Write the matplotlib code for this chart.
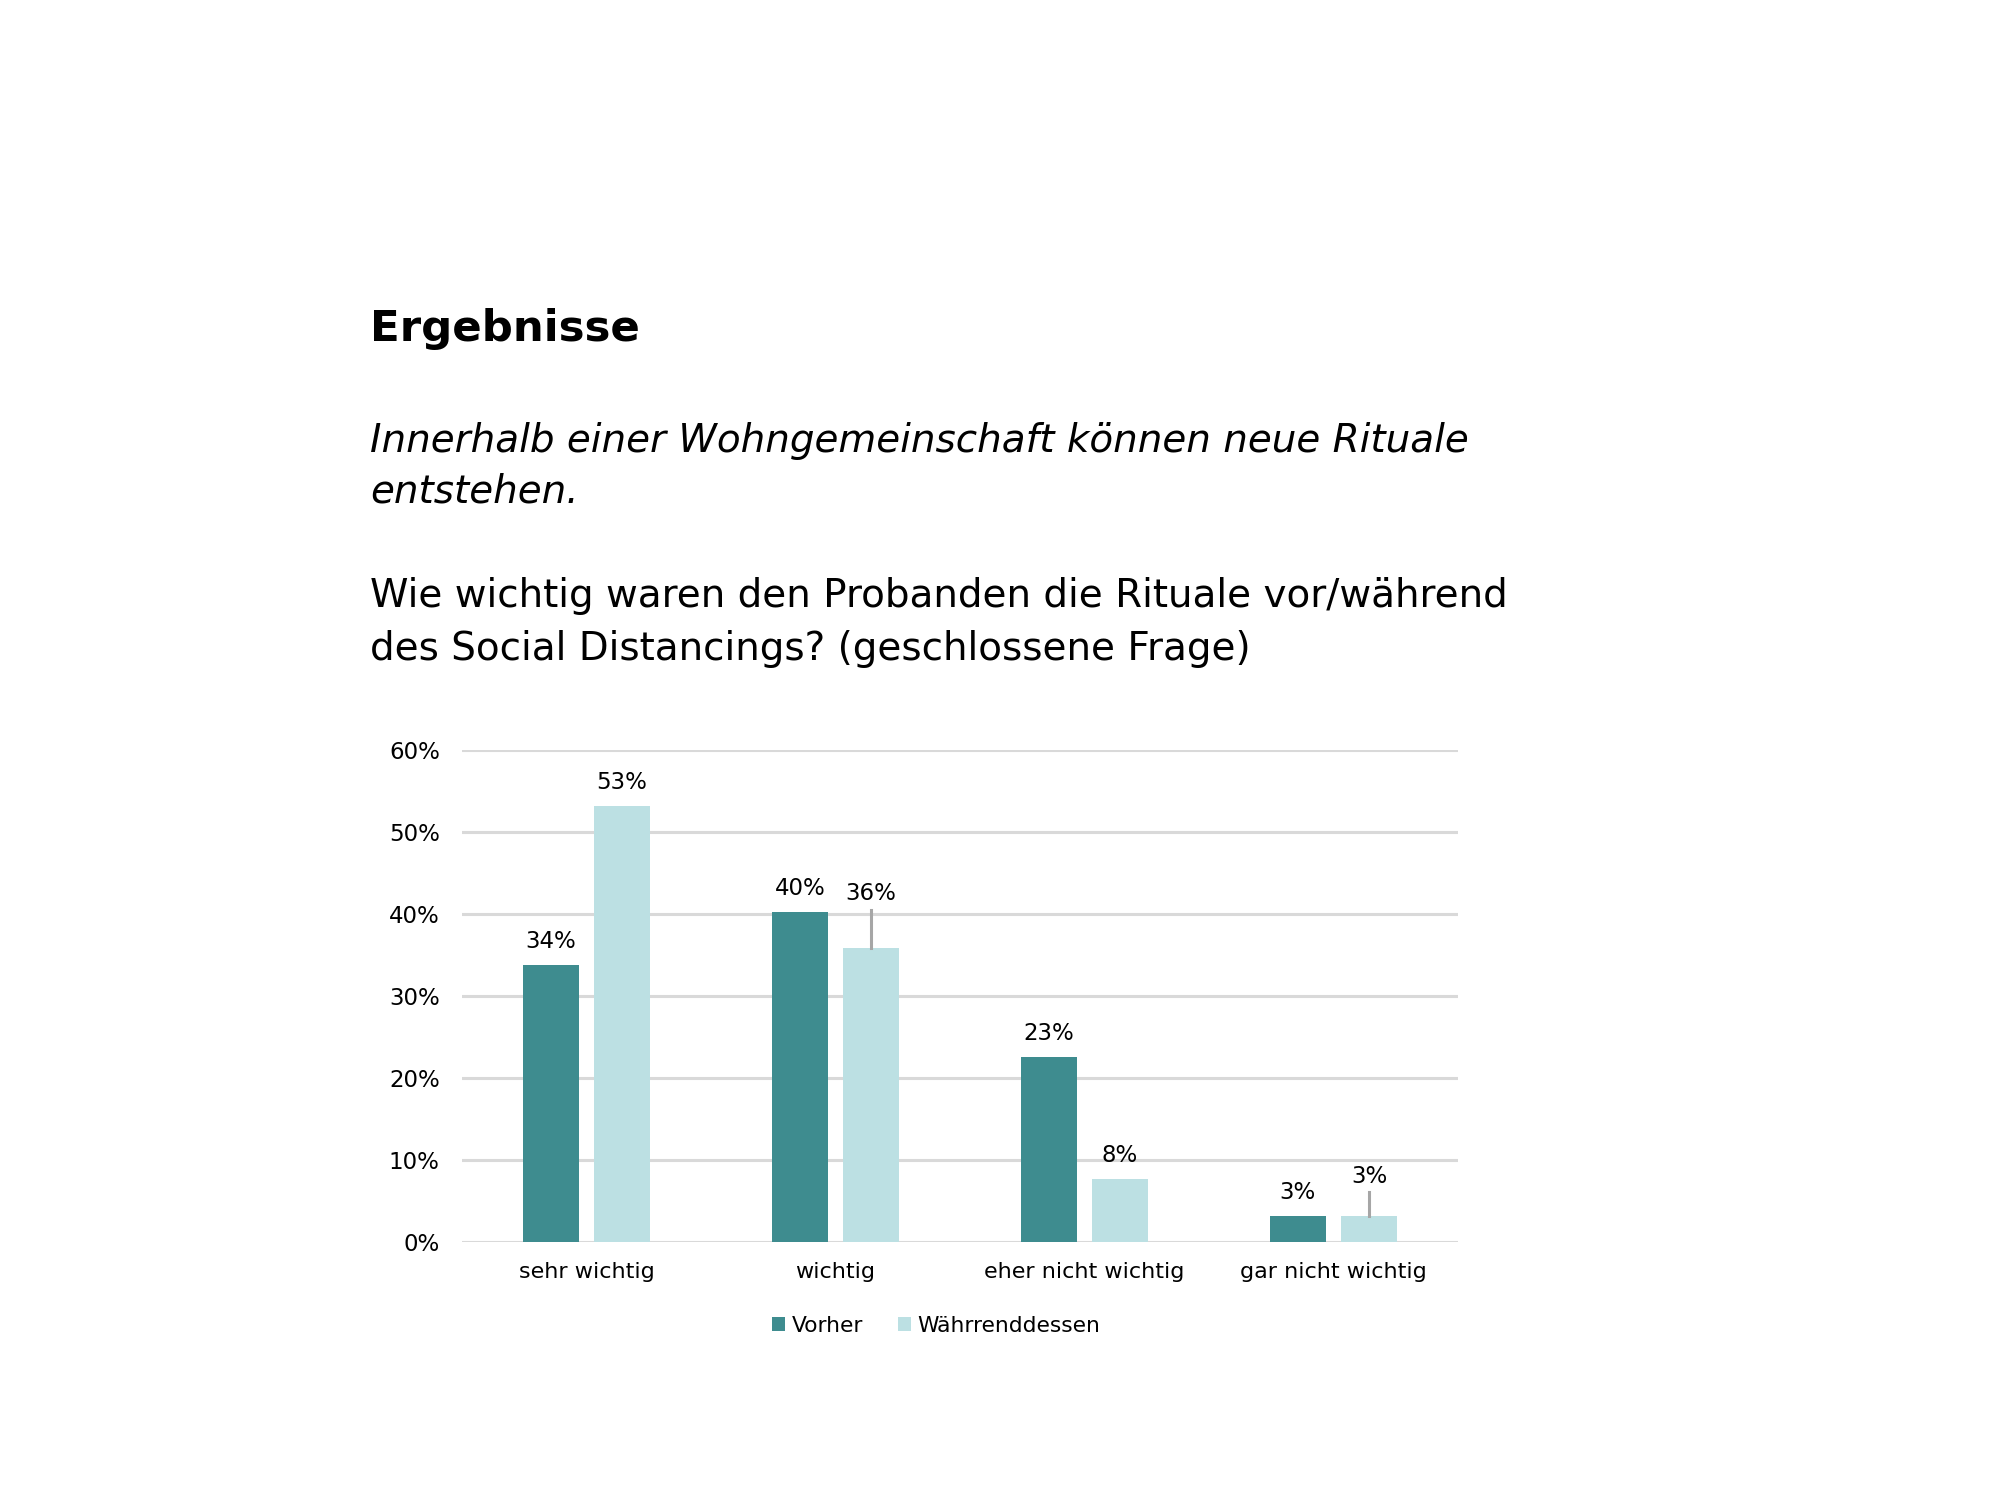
import numpy as np
import matplotlib
matplotlib.use("Agg")
import matplotlib.pyplot as plt
from matplotlib.patches import Patch

# -----------------------------
# Data
# -----------------------------
categories = ["sehr wichtig", "wichtig", "eher nicht wichtig", "gar nicht wichtig"]
vorher = [33.8, 40.3, 22.6, 3.1]
waehrend = [53.2, 35.9, 7.7, 3.1]
series_names = ["Vorher", "Währrenddessen"]
y_ticks = [0, 10, 20, 30, 40, 50, 60]

title = "Ergebnisse"
subtitle_lines = ["Innerhalb einer Wohngemeinschaft können neue Rituale", "entstehen."]
question_lines = ["Wie wichtig waren den Probanden die Rituale vor/während",
                  "des Social Distancings? (geschlossene Frage)"]

# -----------------------------
# Style
# -----------------------------
DARK = "#3E8C8F"
LIGHT = "#BCE0E3"
GRID = "#D9D9D9"
LEADER = "#A6A6A6"
plt.rcParams["font.family"] = ["DejaVu Sans"]

fig = plt.figure(figsize=(20, 15), dpi=100)
fig.patch.set_facecolor("white")

# heading texts
x0 = 0.185
fig.text(x0, 0.7807, title, fontsize=31.3, fontweight="bold", va="center", ha="left")
for y, line in zip([0.706, 0.672], subtitle_lines):
    fig.text(x0, y, line, fontsize=28, style="italic", va="center", ha="left")
for y, line in zip([0.6027, 0.5673], question_lines):
    fig.text(x0, y, line, fontsize=28, va="center", ha="left")

# -----------------------------
# Bar chart
# -----------------------------
ax = fig.add_axes([0.231, 0.1723, 0.498, 0.3275])
x = np.arange(len(categories))
w = 0.227
off = 0.143

b1 = ax.bar(x - off, vorher, w, color=DARK, zorder=3)
b2 = ax.bar(x + off, waehrend, w, color=LIGHT, zorder=3)

ax.set_xlim(-0.5, len(categories) - 0.5)
ax.set_ylim(0, 60)
ax.set_yticks(y_ticks)
ax.set_yticklabels([f"{t}%" for t in y_ticks], fontsize=16.5)
ax.set_xticks(x)
ax.set_xticklabels(categories, fontsize=16)
ax.tick_params(axis="y", length=0, pad=16)
ax.tick_params(axis="x", length=0, pad=15)
for s in ax.spines.values():
    s.set_visible(False)
ax.yaxis.grid(True, color=GRID, linewidth=2.2, zorder=0)
ax.set_axisbelow(True)

# data labels; some labels are lifted and get a leader line
lifted = {(1, 1): 6.6, (3, 1): 4.9}
for si, bars in enumerate([b1, b2]):
    vals = vorher if si == 0 else waehrend
    for ci, (bar, v) in enumerate(zip(bars, vals)):
        cx = bar.get_x() + bar.get_width() / 2
        label = f"{round(v):.0f}%"
        if (ci, si) in lifted:
            ly = v + lifted[(ci, si)]
            ax.text(cx, ly, label, ha="center", va="center", fontsize=16.5, zorder=4)
            ax.plot([cx, cx], [ly - 2.0, v], color=LEADER, linewidth=2.2, zorder=4)
        else:
            ax.annotate(label, (cx, v), xytext=(0, 16.8), textcoords="offset points",
                        ha="center", va="center", fontsize=16.5, zorder=4)

handles = [Patch(facecolor=DARK, label=series_names[0]),
           Patch(facecolor=LIGHT, label=series_names[1])]
fig.legend(handles=handles, loc="center", bbox_to_anchor=(0.468, 0.116), ncol=2,
           frameon=False, fontsize=15.7, handlelength=0.6, handleheight=0.6,
           handletextpad=0.3, columnspacing=1.6)

fig.savefig("out.png", dpi=100, facecolor="white")
